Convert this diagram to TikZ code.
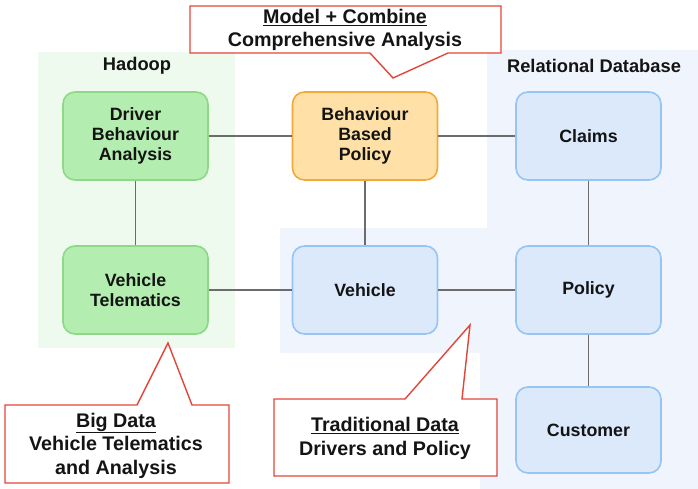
\documentclass[tikz,border=0pt]{standalone}
\usepackage{fontspec}
\setmainfont{Liberation Sans}
\definecolor{hadoopbg}{HTML}{EEFAEE}
\definecolor{rdbbg}{HTML}{F0F5FD}
\definecolor{greenfill}{HTML}{B4EDB0}
\definecolor{greenline}{HTML}{8ED988}
\definecolor{orangefill}{HTML}{FFE1A8}
\definecolor{orangeline}{HTML}{F5A83A}
\definecolor{bluefill}{HTML}{DBE9FB}
\definecolor{blueline}{HTML}{96C4F3}
\definecolor{calloutred}{HTML}{E2453A}
\definecolor{linkgray}{HTML}{6C6C6C}
\definecolor{inkblack}{HTML}{141414}
\begin{document}
\begin{tikzpicture}[x=1pt,y=-1pt,
  box/.style={rounded corners=12pt,line width=1.6pt,minimum width=145pt,minimum height=88pt,
    align=center,text=inkblack,font=\bfseries\fontsize{17.8}{20}\selectfont},
  hbox/.style={box,draw=greenline,fill=greenfill},
  obox/.style={box,draw=orangeline,fill=orangefill},
  rbox/.style={box,draw=blueline,fill=bluefill},
  link/.style={draw=linkgray,line width=1.3pt},
  callout/.style={draw=calloutred,fill=white,line width=1.4pt,line join=miter},
  calltext/.style={align=center,text=inkblack,font=\bfseries\fontsize{19.7}{23.5}\selectfont},
  regiontext/.style={text=inkblack,font=\bfseries\fontsize{18.3}{20}\selectfont}]
  \useasboundingbox (0,0) rectangle (698,489);
  \fill[hadoopbg] (38,52) rectangle (235,348);
  \fill[rdbbg] (487,50) -- (698,50) -- (698,489) -- (480,489) -- (480,353)
    -- (280,353) -- (280,228) -- (487,228) -- cycle;
  \node[regiontext] (hadoop) at (137,66) {Hadoop};
  \node[regiontext] (rdb) at (594,66) {Relational Database};

  \node[hbox] (drv) at (135.5,136) {Driver\\Behaviour\\Analysis};
  \node[hbox] (tel) at (135.5,290) {Vehicle\\Telematics};
  \node[obox] (bbp) at (365,136) {Behaviour\\Based\\Policy};
  \node[rbox] (veh) at (365,290) {Vehicle};
  \node[rbox] (clm) at (588.5,136) {Claims};
  \node[rbox] (pol) at (588.5,290) {Policy};
  \node[rbox,minimum height=86pt] (cus) at (588.5,430) {Customer};

  \draw[link] (drv) -- (bbp);
  \draw[link] (bbp) -- (clm);
  \draw[link] (drv) -- (tel);
  \draw[link] (bbp) -- (veh);
  \draw[link] (tel) -- (veh);
  \draw[link] (veh) -- (pol);
  \draw[link] (clm) -- (pol);
  \draw[link] (pol) -- (cus);

  \draw[callout] (190,6) -- (501,6) -- (501,53) -- (448,53) -- (393,78) -- (370,53)
    -- (190,53) -- cycle;
  \node[calltext] (model) at (345,30) {\underline{Model + Combine}\\Comprehensive Analysis};
  \draw[callout] (5,405) -- (137,405) -- (168,343) -- (192,405) -- (229,405)
    -- (229,483) -- (5,483) -- cycle;
  \node[calltext] (bigdata) at (116,445.5) {\underline{Big Data}\\Vehicle Telematics\\and Analysis};
  \draw[callout] (274,399) -- (405,399) -- (470,325) -- (462,399) -- (497,399)
    -- (497,476) -- (274,476) -- cycle;
  \node[calltext] (tradata) at (385,438.5) {\underline{Traditional Data}\\Drivers and Policy};
\end{tikzpicture}
\end{document}
